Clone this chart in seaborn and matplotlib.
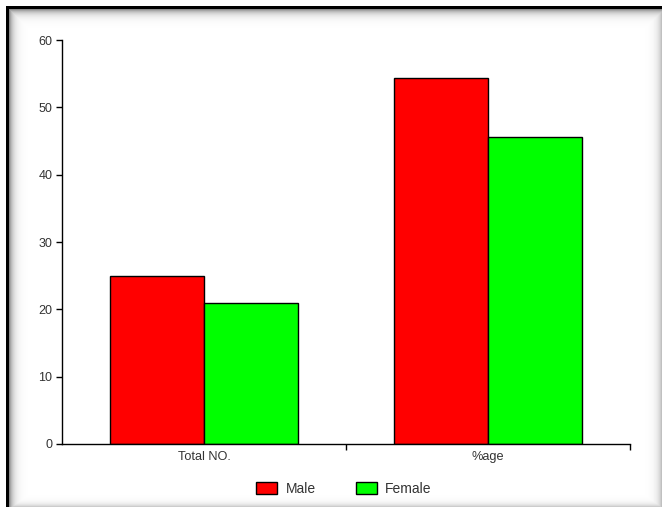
import numpy as np
import pandas as pd
import matplotlib
matplotlib.use("Agg")
import matplotlib.pyplot as plt
import seaborn as sns
from matplotlib.patches import Patch

categories = ["Total NO.", "%age"]
male = [25, 54.35]
female = [21, 45.65]
series = ["Male", "Female"]
colors = ["#ff0000", "#00ff00"]
yticks = [0, 10, 20, 30, 40, 50, 60]

df = pd.DataFrame({
    "cat": categories * 2,
    "val": male + female,
    "ser": [series[0]] * 2 + [series[1]] * 2,
})

sns.set_theme(style="white")
plt.rcParams["font.family"] = ["Liberation Sans", "DejaVu Sans"]

W, H = 662, 507
fig = plt.figure(figsize=(W / 100, H / 100), dpi=100)

# decorative frame background
bg = fig.add_axes([0, 0, 1, 1], zorder=-10)
yy, xx = np.mgrid[0:H, 0:W]
inside = (yy >= 9) & (xx >= 9)
top = np.exp(-(yy - 9) / 4.0) * 0.45
left = np.exp(-(xx - 9) / 4.0) * 0.45
right = np.exp(-(W - 1 - xx) / 4.0) * 0.25
bottom = np.exp(-(H - 1 - yy) / 3.0) * 0.2
shade = np.maximum.reduce([top, left, right, bottom])
img = np.where(inside, 1 - shade, 1.0)
img[(yy >= 6) & (yy < 9) & (xx >= 6)] = 0.0
img[(xx >= 6) & (xx < 9) & (yy >= 6)] = 0.0
bg.imshow(img, cmap="gray", vmin=0, vmax=1, aspect="auto", interpolation="nearest")
bg.axis("off")

ax = fig.add_axes([62 / W, 1 - 444 / H, (630 - 62) / W, (444 - 40) / H])
ax.set_facecolor("none")
sns.barplot(data=df, x="cat", y="val", hue="ser", palette=colors, width=0.662,
            edgecolor="black", linewidth=1, ax=ax, legend=False, saturation=1)

ax.set_xlim(-0.5, 1.5)
ax.set_ylim(0, 60)
ax.set_yticks(yticks)
ax.set_yticklabels([str(t) for t in yticks])
ax.set_xlabel("")
ax.set_ylabel("")
for s in ["top", "right"]:
    ax.spines[s].set_visible(False)
for s in ["left", "bottom"]:
    ax.spines[s].set_color("black")
    ax.spines[s].set_linewidth(1)
ax.tick_params(axis="y", direction="out", length=4, width=1, color="black",
               labelsize=9, labelcolor="#333333", pad=3, left=True)
ax.tick_params(axis="x", which="major", length=0, labelsize=9.2, labelcolor="#333333", pad=5)
ax.set_xticks([0.5, 1.5], minor=True)
ax.tick_params(axis="x", which="minor", direction="out", length=4, width=1, color="black", bottom=True)

handles = [Patch(facecolor=c, edgecolor="black", linewidth=1) for c in colors]
fig.legend(handles, series, loc="center", bbox_to_anchor=(344 / W, 1 - 489 / H), ncol=2,
           frameon=False, fontsize=10, handlelength=1.5, handleheight=0.95,
           handletextpad=0.6, columnspacing=2.9, labelcolor="#333333")

fig.savefig("out.png", dpi=100)
